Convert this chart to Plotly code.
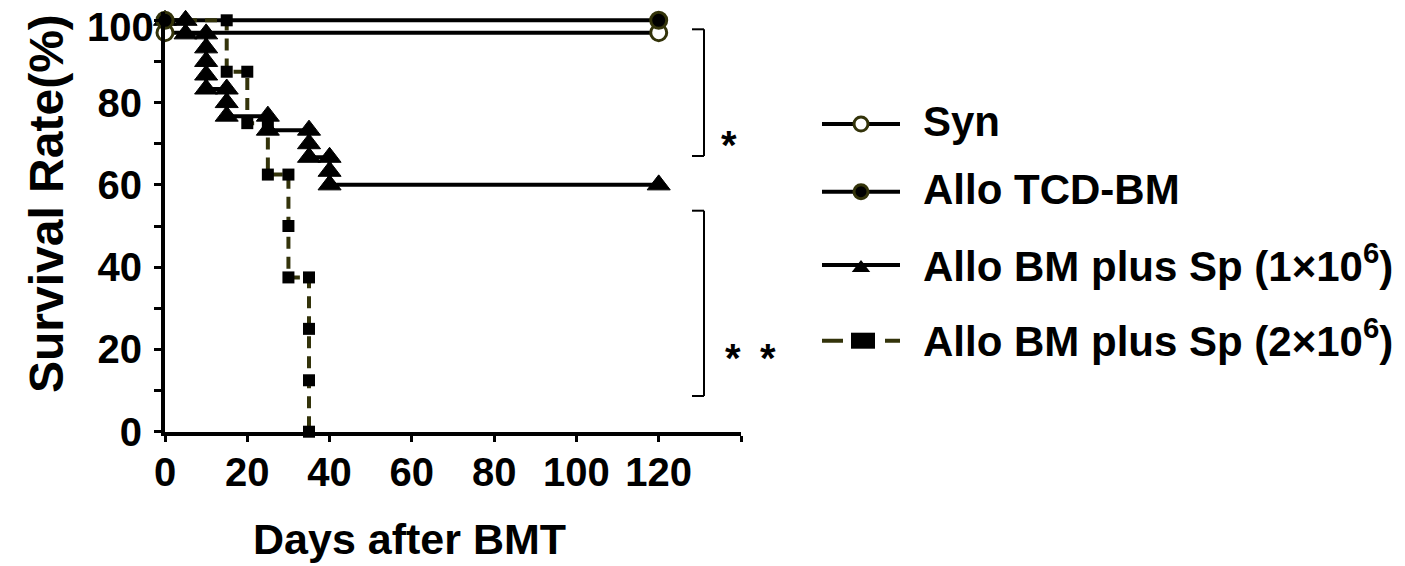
import plotly.graph_objects as go

# ---------------- data ----------------
syn_days = [0, 120]
syn_surv = [97, 97]

tcd_days = [0, 120]
tcd_surv = [100, 100]

sp1_days = [0, 5, 5, 10, 10, 10, 10, 10, 15, 15, 15, 25, 25, 35, 35, 35, 40, 40, 40, 120]
sp1_surv = [100, 100, 96.7, 96.7, 93.3, 90, 86.7, 83.3, 83.3, 80, 76.7, 76.7, 73.3,
            73.3, 70, 66.7, 66.7, 63.3, 60, 60]

sp2_days = [0, 15, 15, 20, 20, 25, 25, 30, 30, 30, 35, 35, 35, 35]
sp2_surv = [100, 100, 87.5, 87.5, 75, 75, 62.5, 62.5, 50, 37.5, 37.5, 25, 12.5, 0]

x_ticks = [0, 20, 40, 60, 80, 100, 120]
x_ticktext = ["0", "20", "40", "60", "80", "100", "120"]
y_ticks = [0, 20, 40, 60, 80, 100]
y_ticktext = ["0", "20", "40", "60", "80", "100"]

legend_names = ["Syn", "Allo TCD-BM", "Allo BM plus Sp (1×10<sup>6</sup>)",
                "Allo BM plus Sp (2×10<sup>6</sup>)"]

# ---------------- layout helpers ----------------
W, H = 1405, 566
FONT = "Liberation Sans, Arial, sans-serif"
OLIVE = "#33330a"


def px(x):
    return x / W


def py(y):
    return 1 - y / H


x_left, x_right = 165, 741
y_zero, y_hundred = 431.7, 20.3
per_unit = (y_zero - y_hundred) / 100.0
y_top_val = 102
y_top_px = y_zero - y_top_val * per_unit

fig = go.Figure()

# lines
fig.add_trace(go.Scatter(x=syn_days, y=syn_surv, mode="lines",
                         line=dict(color="black", width=4), hoverinfo="skip"))
fig.add_trace(go.Scatter(x=tcd_days, y=tcd_surv, mode="lines",
                         line=dict(color="black", width=4), hoverinfo="skip"))
fig.add_trace(go.Scatter(x=sp2_days, y=sp2_surv, mode="lines",
                         line=dict(color=OLIVE, width=4, dash="12px,8px"), hoverinfo="skip"))
fig.add_trace(go.Scatter(x=sp1_days, y=sp1_surv, mode="lines",
                         line=dict(color="black", width=4), hoverinfo="skip"))
# markers
fig.add_trace(go.Scatter(x=sp2_days, y=sp2_surv, mode="markers", cliponaxis=False,
                         marker=dict(symbol="square", size=12, color="black", line=dict(width=0))))
fig.add_trace(go.Scatter(x=sp1_days, y=sp1_surv, mode="markers", cliponaxis=False,
                         marker=dict(symbol="triangle-up", size=20, color="black",
                                     line=dict(width=1, color="black"))))
fig.add_trace(go.Scatter(x=syn_days, y=syn_surv, mode="markers", cliponaxis=False,
                         marker=dict(symbol="circle", size=16, color="white",
                                     line=dict(width=3, color=OLIVE))))
fig.add_trace(go.Scatter(x=tcd_days, y=tcd_surv, mode="markers", cliponaxis=False,
                         marker=dict(symbol="circle", size=16, color="black",
                                     line=dict(width=3, color=OLIVE))))

# ---------------- legend (drawn on a pixel overlay axis) ----------------
leg_y = [124, 191.7, 265, 340.7]
lx0, lx1, lmx = 822, 900, 861
line_styles = [
    dict(color="black", width=4),
    dict(color="black", width=4),
    dict(color="black", width=4),
    dict(color=OLIVE, width=4, dash="21px,42px"),
]
for yy, ls in zip(leg_y, line_styles):
    fig.add_trace(go.Scatter(x=[lx0, lx1], y=[yy, yy], mode="lines", line=ls,
                             xaxis="x2", yaxis="y2", hoverinfo="skip"))
fig.add_trace(go.Scatter(x=[lmx], y=[leg_y[0]], mode="markers", xaxis="x2", yaxis="y2",
                         marker=dict(symbol="circle", size=14, color="white",
                                     line=dict(width=3, color=OLIVE)), hoverinfo="skip"))
fig.add_trace(go.Scatter(x=[lmx], y=[leg_y[1]], mode="markers", xaxis="x2", yaxis="y2",
                         marker=dict(symbol="circle", size=14, color="black",
                                     line=dict(width=3, color=OLIVE)), hoverinfo="skip"))
fig.add_trace(go.Scatter(x=[lmx], y=[leg_y[2] + 3], mode="markers", xaxis="x2", yaxis="y2",
                         marker=dict(symbol="triangle-up", size=16, color="black",
                                     line=dict(width=0)), hoverinfo="skip"))

annotations = []
for yy, name in zip(leg_y, legend_names):
    annotations.append(dict(x=px(921), y=py(yy - 2.5), xref="paper", yref="paper",
                            text=name, showarrow=False, xanchor="left", yanchor="middle",
                            font=dict(family=FONT, size=42, color="black", weight="bold")))

# top y tick label sits slightly below its tick (as in the original figure)
annotations.append(dict(x=px(156), y=py(27), xref="paper", yref="paper",
                        text=y_ticktext[-1], showarrow=False, xanchor="right",
                        yanchor="middle",
                        font=dict(family=FONT, size=40, color="black", weight="bold")))

# axis titles
annotations.append(dict(x=px(409), y=py(539), xref="paper", yref="paper",
                        text="Days after BMT", showarrow=False, xanchor="center",
                        yanchor="middle",
                        font=dict(family=FONT, size=43, color="black", weight="bold")))
annotations.append(dict(x=px(46), y=py(204), xref="paper", yref="paper",
                        text="Survival Rate(%)", showarrow=False, textangle=-90,
                        xanchor="center", yanchor="middle",
                        font=dict(family=FONT, size=48, color="black", weight="bold")))

# significance brackets, asterisks, legend square glyph
shapes = []
for (ytop, ybot) in [(29.3, 156), (210.7, 396)]:
    pts = [(692, ytop), (704, ytop), (704, ybot), (692, ybot)]
    for (xa, ya), (xb, yb) in zip(pts[:-1], pts[1:]):
        shapes.append(dict(type="line", xref="paper", yref="paper",
                           x0=px(xa), y0=py(ya), x1=px(xb), y1=py(yb),
                           line=dict(color="black", width=2)))
shapes.append(dict(type="rect", xref="paper", yref="paper",
                   x0=px(851), x1=px(875), y0=py(leg_y[3] - 8), y1=py(leg_y[3] + 8),
                   fillcolor="black", line=dict(width=0)))

for xs, ys in [(729, 145), (733, 358), (768, 358)]:
    annotations.append(dict(x=px(xs), y=py(ys), xref="paper", yref="paper", text="*",
                            showarrow=False, xanchor="center", yanchor="middle",
                            font=dict(family=FONT, size=40, color="black", weight="bold")))

fig.update_layout(
    width=W, height=H, autosize=False,
    margin=dict(l=0, r=0, t=0, b=0, autoexpand=False),
    paper_bgcolor="white", plot_bgcolor="rgba(0,0,0,0)",
    showlegend=False,
    xaxis=dict(domain=[px(x_left), px(x_right)], range=[0, 140], anchor="y",
               automargin=False,
               showgrid=False, zeroline=False, showline=True, linecolor="black",
               linewidth=4, ticks="outside", ticklen=6, tickwidth=2.5, tickcolor="black",
               tickmode="array", tickvals=x_ticks, ticktext=x_ticktext, ticklabelstandoff=-4,
               ticklabeloverflow="allow",
               minor=dict(dtick=20, tick0=0, ticks="outside", ticklen=6, tickwidth=2.5,
                          tickcolor="black", showgrid=False),
               tickfont=dict(family=FONT, size=40, color="black", weight="bold")),
    yaxis=dict(domain=[1 - y_zero / H, 1 - y_top_px / H], range=[0, y_top_val], anchor="x",
               automargin=False,
               showgrid=False, zeroline=False, showline=True, linecolor="black",
               linewidth=4, ticks="outside", ticklen=7, tickwidth=2.5, tickcolor="black",
               tickmode="array", tickvals=y_ticks[:-1], ticktext=y_ticktext[:-1],
               ticklabelstandoff=4, ticklabeloverflow="allow",
               minor=dict(dtick=10, tick0=0, ticks="outside", ticklen=7, tickwidth=2.5,
                          tickcolor="black", showgrid=False),
               tickfont=dict(family=FONT, size=40, color="black", weight="bold")),
    xaxis2=dict(domain=[0, 1], range=[0, W], visible=False, anchor="y2", automargin=False),
    yaxis2=dict(domain=[0, 1], range=[H, 0], visible=False, anchor="x2", automargin=False),
    annotations=annotations,
    shapes=shapes,
)

fig.write_html("out.html")
